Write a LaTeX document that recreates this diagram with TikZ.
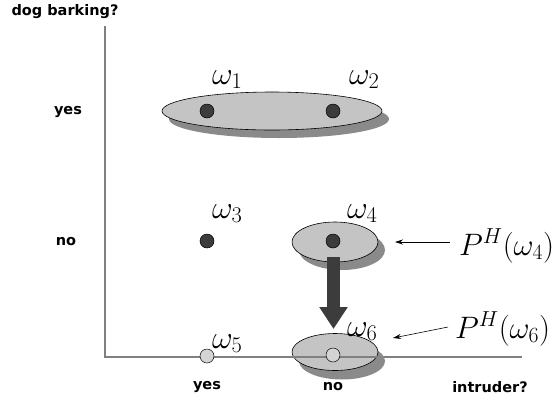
\RequirePackage{fix-cm}
\documentclass[tikz,border=0pt]{standalone}
\usepackage{fontspec}
\usetikzlibrary{arrows.meta,shapes.geometric}
\newfontfamily\labfont{DejaVu Sans}
\definecolor{ellfill}{HTML}{C4C4C4}
\definecolor{shadowc}{HTML}{8A8A8A}
\definecolor{dotdark}{HTML}{3C3C3C}
\definecolor{dotlight}{HTML}{D4D4D4}
\definecolor{axisc}{HTML}{808080}
\begin{document}
\begin{tikzpicture}[x=1pt,y=-1pt,
  axlab/.style={font=\labfont\bfseries\fontsize{14.5}{16}\selectfont, inner sep=0pt},
  omlab/.style={font=\fontsize{32}{36}\selectfont, inner sep=0pt, anchor=base west},
  plab/.style={font=\fontsize{31}{36}\selectfont, inner sep=0pt, anchor=base west},
  ell/.style={ellipse, draw=black, line width=0.6pt, fill=ellfill, inner sep=0pt},
  ellshadow/.style={ellipse, fill=shadowc, draw=none, inner sep=0pt},
  dotd/.style={circle, draw=black, line width=0.5pt, fill=dotdark, minimum size=14pt, inner sep=0pt},
  dotl/.style={circle, draw=black, line width=0.5pt, fill=dotlight, minimum size=14pt, inner sep=0pt},
  thinarrow/.style={-{Stealth[length=8pt,width=5pt]}, line width=0.6pt},
  bigarrow/.style={-{Triangle[length=22pt,width=27pt]}, line width=13pt, draw=dotdark}
]
\useasboundingbox (0,0) rectangle (559,400);

% axes
\coordinate (ytop) at (105,26);
\coordinate (origin) at (105,357);
\coordinate (xend) at (522,357);
\draw[axisc, line width=1.2pt] (ytop) -- (origin) -- (xend);

\node[axlab] (ylab) at (65,12) {dog barking?};
\node[axlab] (yyes) at (68,112) {yes};
\node[axlab] (yno) at (66,242) {no};
\node[axlab] (xyes) at (207,387) {yes};
\node[axlab] (xno) at (333,387) {no};
\node[axlab] (xint) at (490,387) {intruder?};

% big ellipse omega1, omega2
\node[ellshadow, minimum width=220pt, minimum height=38pt] (e12s) at (279,119) {};
\node[ell, minimum width=220pt, minimum height=38pt] (e12) at (272,111) {};
% omega4 ellipse
\node[ellshadow, minimum width=86pt, minimum height=40pt] (e4s) at (342,250) {};
\node[ell, minimum width=86pt, minimum height=40pt] (e4) at (335,242) {};
% omega6 ellipse
\node[ellshadow, minimum width=86pt, minimum height=37pt] (e6s) at (342,361) {};
\node[ell, minimum width=86pt, minimum height=37pt] (e6) at (335,352) {};
\draw[axisc, line width=1.2pt] (e6.west |- origin) -- (e6.east |- origin);

% dots
\node[dotd] (d1) at (207,111) {};
\node[dotd] (d2) at (333,111) {};
\node[dotd] (d3) at (207,241) {};
\node[dotd] (d4) at (333,241) {};
\node[dotl] (d5) at (207,356) {};
\node[dotl] (d6) at (333,355) {};

% omega labels
\node[omlab] (w1) at (212,84) {$\omega_1$};
\node[omlab] (w2) at (349,84) {$\omega_2$};
\node[omlab] (w3) at (212,218) {$\omega_3$};
\node[omlab] (w4) at (347,218) {$\omega_4$};
\node[omlab] (w5) at (212,348) {$\omega_5$};
\node[omlab] (w6) at (347,336) {$\omega_6$};

% P labels
\node[plab] (p4) at (459,255) {$P^H(\omega_4)$};
\node[plab] (p6) at (455,338) {$P^H(\omega_6)$};

\coordinate (a4s) at (450,242);
\coordinate (a4e) at (395,242);
\coordinate (a6s) at (448,327);
\coordinate (a6e) at (393,338);
\draw[thinarrow] (a4s) -- (a4e);
\draw[thinarrow] (a6s) -- (a6e);

% big arrow
\coordinate (bs) at (333.5,257);
\coordinate (be) at (333.5,329);
\draw[bigarrow] (bs) -- (be);
\end{tikzpicture}
\end{document}
